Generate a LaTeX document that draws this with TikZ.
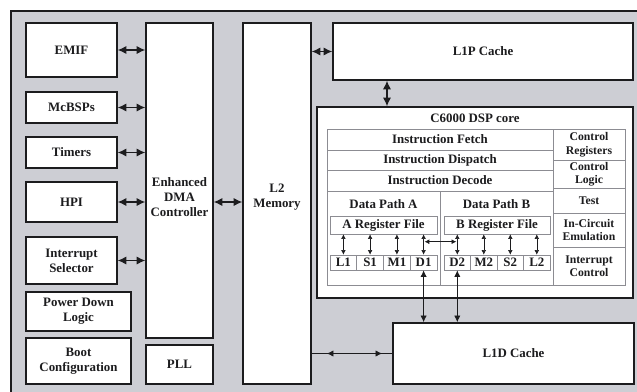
\documentclass[tikz,border=0pt]{standalone}
\usepackage{fontspec}
\setmainfont{Liberation Serif}
\usepackage{tikz}
\usetikzlibrary{arrows.meta,positioning,calc}
\definecolor{ink}{HTML}{1C1C1E}
\definecolor{board}{HTML}{CDCED4}
\definecolor{rule}{HTML}{8C8C92}

\begin{document}
\begin{tikzpicture}[x=0.03cm,y=-0.03cm,every node/.style={font=\fontsize{11}{13}\selectfont\bfseries,align=center,inner sep=0pt,text=ink},blk/.style={draw=ink,fill=white,line width=1.3pt},cell/.style={draw=rule,line width=0.5pt},side/.style={cell,minimum width=2.16cm,font=\fontsize{10}{11.5}\selectfont\bfseries},unit/.style={cell,minimum width=0.8cm,minimum height=0.45cm},link/.style={{Latex[length=2.6mm,width=2.5mm]}-{Latex[length=2.6mm,width=2.5mm]},line width=1pt,ink},bus/.style={{Latex[length=2mm,width=1.9mm]}-{Latex[length=2mm,width=1.9mm]},line width=0.7pt,ink},tiny/.style={{Latex[length=1.4mm,width=1.4mm]}-{Latex[length=1.4mm,width=1.4mm]},line width=0.5pt,ink}]
\useasboundingbox (0,0) rectangle (637,392);
\clip (0,0) rectangle (637,392);
\fill[board] (11,11) rectangle (650,400);
\draw[ink,line width=1.3pt] (11,400)--(11,11)--(650,11);
% peripherals
\node[blk,minimum width=2.73cm,minimum height=1.62cm] (emif) at (71.5,50) {EMIF};
\node[blk,minimum width=2.73cm,minimum height=0.93cm] (mcbsp) at (71.5,107.5) {McBSPs};
\node[blk,minimum width=2.73cm,minimum height=0.93cm] (timers) at (71.5,152.5) {Timers};
\node[blk,minimum width=2.73cm,minimum height=1.2cm] (hpi) at (71.5,202) {HPI};
\node[blk,minimum width=2.73cm,minimum height=1.41cm] (intsel) at (71.5,260.5) {Interrupt\\ Selector};
\node[blk,minimum width=3.15cm,minimum height=1.17cm] (pwr) at (78.5,311.5) {Power Down\\ Logic};
\node[blk,minimum width=3.15cm,minimum height=1.38cm] (boot) at (78.5,361) {Boot\\ Configuration};
\node[blk,minimum width=2.01cm,minimum height=9.45cm] (dma) at (179.5,180.5) {};
\node (dmatxt) at (179.5,197) {Enhanced\\ DMA\\ Controller};
\node[blk,minimum width=2.01cm,minimum height=1.17cm] (pll) at (179.5,364.5) {PLL};
\node[blk,minimum width=2.04cm,minimum height=10.83cm] (l2) at (277,203.5) {};
\node (l2txt) at (277,197.5) {L2\\ Memory};
\node[blk,minimum width=9cm,minimum height=1.71cm] (l1p) at (483,51.5) {L1P Cache};
\node[blk,minimum width=7.23cm,minimum height=1.83cm] (l1d) at (513.5,353.5) {L1D Cache};
% DSP core
\node[blk,minimum width=9.48cm,minimum height=5.73cm] (core) at (475,202.5) {};
\node (coretxt) at (475,118) {C6000 DSP core};
\node[cell,minimum width=6.78cm,minimum height=0.63cm] (fetch) at (440,139.5) {Instruction Fetch};
\node[cell,minimum width=6.78cm,minimum height=0.6cm] (disp) at (440,160) {Instruction Dispatch};
\node[cell,minimum width=6.78cm,minimum height=0.63cm] (dec) at (440,180.5) {Instruction Decode};
\node[cell,minimum width=3.39cm,minimum height=2.82cm] (dpa) at (383.5,238) {};
\node[cell,minimum width=3.39cm,minimum height=2.82cm] (dpb) at (496.5,238) {};
\node (dpatxt) at (383.5,204) {Data Path A};
\node (dpbtxt) at (496.5,204) {Data Path B};
\node[side,minimum height=0.93cm] (creg) at (589,144.5) {Control\\ Registers};
\node[side,minimum height=0.84cm] (clog) at (589,174) {Control\\ Logic};
\node[side,minimum height=0.75cm] (test) at (589,200.5) {Test};
\node[side,minimum height=1.02cm] (ice) at (589,230) {In-Circuit\\ Emulation};
\node[side,minimum height=1.14cm] (intc) at (589,266) {Interrupt\\ Control};
\node[cell,minimum width=3.21cm,minimum height=0.54cm] (rfa) at (383.5,225) {A Register File};
\node[cell,minimum width=3.18cm,minimum height=0.54cm] (rfb) at (497,225) {B Register File};
\node[unit] (L1) at (343.4,262.5) {L1};
\node[unit] (S1) at (370.1,262.5) {S1};
\node[unit] (M1) at (396.9,262.5) {M1};
\node[unit] (D1) at (423.6,262.5) {D1};
\node[unit] (D2) at (457.3,262.5) {D2};
\node[unit] (M2) at (483.8,262.5) {M2};
\node[unit] (S2) at (510.3,262.5) {S2};
\node[unit] (L2) at (536.8,262.5) {L2};
% connectors
\draw[link] (emif.east)--(emif.east -| dma.west);
\draw[link] (mcbsp.east)--(mcbsp.east -| dma.west);
\draw[link] (timers.east)--(timers.east -| dma.west);
\draw[link] (hpi.east)--(hpi.east -| dma.west);
\draw[link] (intsel.east)--(intsel.east -| dma.west);
\draw[link] (dma.east |- hpi)--(l2.west |- hpi);
\draw[link] (l2.east |- l1p)--(l1p.west);
\draw[link] ([xshift=-2.88cm]l1p.south)--([xshift=-2.88cm]l1p.south |- core.north);
\draw[line width=1pt,ink] (l2.east |- l1d)--(l1d.west);
\draw[bus,shorten <=0.45cm,shorten >=0.3cm] (l2.east |- l1d)--(l1d.west);
\foreach \u/\r in {L1/rfa,S1/rfa,M1/rfa,D1/rfa,D2/rfb,M2/rfb,S2/rfb,L2/rfb}
  \draw[tiny] (\u.north |- \r.south)--(\u.north);
\draw[tiny] ($(D1.north)+(1,-13)$)--($(D2.north)+(-1,-13)$);
\draw[bus] (D1.south)--(D1.south |- l1d.north);
\draw[bus] (D2.south)--(D2.south |- l1d.north);
\end{tikzpicture}
\end{document}
